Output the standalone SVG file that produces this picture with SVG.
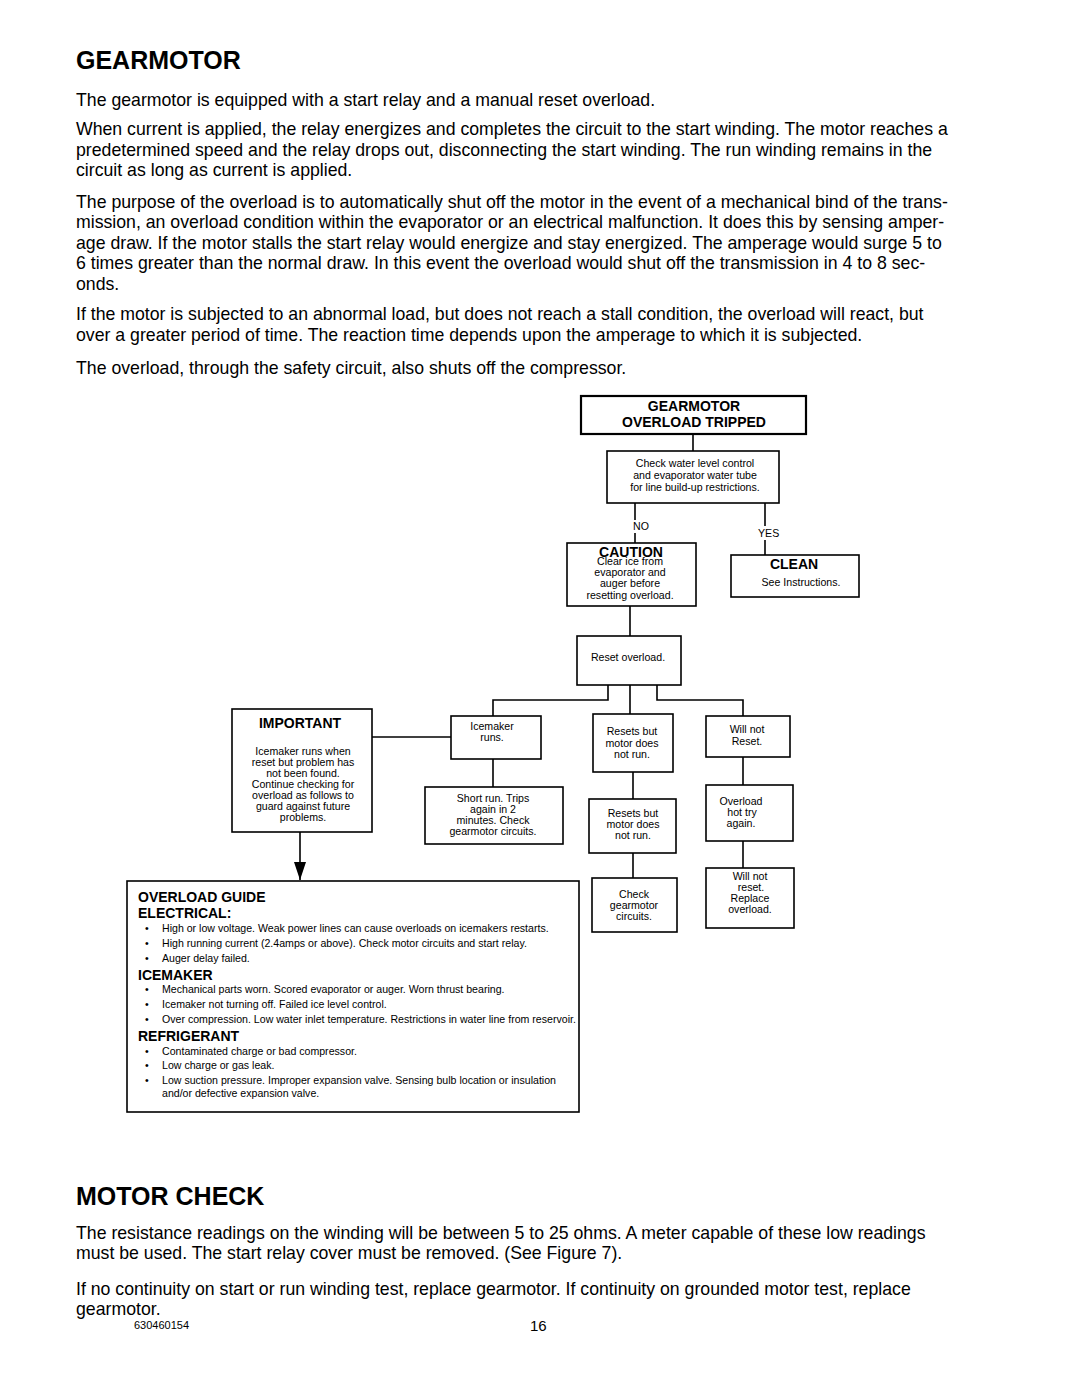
<svg xmlns="http://www.w3.org/2000/svg" width="1080" height="1397" viewBox="0 0 1080 1397">
<style>
text{font-family:"Liberation Sans",Arial,Helvetica,sans-serif;fill:#000}
.h1{font-size:25px;font-weight:bold}
.p{font-size:17.7px}
.bh{font-size:14px;font-weight:bold}
.s{font-size:10.6px}
.sc{font-size:10.6px;text-anchor:middle}
.bc{font-size:14px;font-weight:bold;text-anchor:middle}
.box{fill:#fff;stroke:#000;stroke-width:1.6}
.thick{fill:#fff;stroke:#000;stroke-width:2.2}
.ln{fill:none;stroke:#000;stroke-width:1.6}
</style>
<defs>
<marker id="arr" markerWidth="18" markerHeight="12" refX="18" refY="6" orient="auto" markerUnits="userSpaceOnUse">
<path d="M0,0 L18,6 L0,12 Z" fill="#000"/>
</marker>
</defs>
<rect width="1080" height="1397" fill="#fff"/>

<g id="text-top">
<text class="h1" x="76" y="69">GEARMOTOR</text>
<text class="p" x="76" y="106">The gearmotor is equipped with a start relay and a manual reset overload.</text>
<text class="p" x="76" y="135">When current is applied, the relay energizes and completes the circuit to the start winding. The motor reaches a</text>
<text class="p" x="76" y="156">predetermined speed and the relay drops out, disconnecting the start winding. The run winding remains in the</text>
<text class="p" x="76" y="176">circuit as long as current is applied.</text>
<text class="p" x="76" y="208">The purpose of the overload is to automatically shut off the motor in the event of a mechanical bind of the trans-</text>
<text class="p" x="76" y="228">mission, an overload condition within the evaporator or an electrical malfunction. It does this by sensing amper-</text>
<text class="p" x="76" y="249">age draw. If the motor stalls the start relay would energize and stay energized. The amperage would surge 5 to</text>
<text class="p" x="76" y="269">6 times greater than the normal draw. In this event the overload would shut off the transmission in 4 to 8 sec-</text>
<text class="p" x="76" y="290">onds.</text>
<text class="p" x="76" y="320">If the motor is subjected to an abnormal load, but does not reach a stall condition, the overload will react, but</text>
<text class="p" x="76" y="341">over a greater period of time. The reaction time depends upon the amperage to which it is subjected.</text>
<text class="p" x="76" y="374">The overload, through the safety circuit, also shuts off the compressor.</text>
</g>

<g id="connectors">
<line class="ln" x1="693" y1="434" x2="693" y2="451"/>
<line class="ln" x1="635" y1="503" x2="635" y2="520"/>
<line class="ln" x1="635" y1="533" x2="635" y2="543"/>
<line class="ln" x1="765" y1="503" x2="765" y2="526"/>
<line class="ln" x1="765" y1="540" x2="765" y2="555"/>
<line class="ln" x1="630" y1="606" x2="630" y2="636"/>
<polyline class="ln" points="608,685 608,700 493,700 493,716"/>
<line class="ln" x1="630" y1="685" x2="630" y2="714"/>
<polyline class="ln" points="657,685 657,700 743,700 743,716"/>
<line class="ln" x1="372" y1="737" x2="451" y2="737"/>
<line class="ln" x1="493" y1="759" x2="493" y2="787"/>
<line class="ln" x1="633" y1="772" x2="633" y2="799"/>
<line class="ln" x1="633" y1="853" x2="633" y2="878"/>
<line class="ln" x1="743" y1="757" x2="743" y2="785"/>
<line class="ln" x1="743" y1="841" x2="743" y2="868"/>
<line class="ln" x1="300" y1="832" x2="300" y2="880" marker-end="url(#arr)"/>
<text class="s" x="633" y="530">NO</text>
<text class="s" x="758" y="537">YES</text>
</g>

<g id="n-tripped">
<rect class="thick" x="581" y="396" width="225" height="38"/>
<text class="bc" x="694" y="411">GEARMOTOR</text>
<text class="bc" x="694" y="427">OVERLOAD TRIPPED</text>
</g>

<g id="n-check-water">
<rect class="box" x="607" y="451" width="172" height="52"/>
<text class="sc" x="695" y="467">Check water level control</text>
<text class="sc" x="695" y="479">and evaporator water tube</text>
<text class="sc" x="695" y="491">for line build-up restrictions.</text>
</g>

<g id="n-caution">
<rect class="box" x="567" y="543" width="129" height="63"/>
<text class="bc" x="631" y="557">CAUTION</text>
<text class="sc" x="630" y="565">Clear ice from</text>
<text class="sc" x="630" y="576">evaporator and</text>
<text class="sc" x="630" y="587">auger before</text>
<text class="sc" x="630" y="599">resetting overload.</text>
</g>

<g id="n-clean">
<rect class="box" x="731" y="555" width="128" height="42"/>
<text class="bc" x="794" y="569">CLEAN</text>
<text class="sc" x="801" y="586">See Instructions.</text>
</g>

<g id="n-reset">
<rect class="box" x="577" y="636" width="104" height="49"/>
<text class="sc" x="628" y="661">Reset overload.</text>
</g>

<g id="n-important">
<rect class="box" x="232" y="709" width="140" height="123"/>
<text class="bc" x="300" y="728">IMPORTANT</text>
<text class="sc" x="303" y="755">Icemaker runs when</text>
<text class="sc" x="303" y="766">reset but problem has</text>
<text class="sc" x="303" y="777">not been found.</text>
<text class="sc" x="303" y="788">Continue checking for</text>
<text class="sc" x="303" y="799">overload as follows to</text>
<text class="sc" x="303" y="810">guard against future</text>
<text class="sc" x="303" y="821">problems.</text>
</g>

<g id="n-icemaker-runs">
<rect class="box" x="451" y="716" width="90" height="43"/>
<text class="sc" x="492" y="730">Icemaker</text>
<text class="sc" x="492" y="741">runs.</text>
</g>

<g id="n-short-run">
<rect class="box" x="425" y="787" width="138" height="57"/>
<text class="sc" x="493" y="802">Short run. Trips</text>
<text class="sc" x="493" y="813">again in 2</text>
<text class="sc" x="493" y="824">minutes. Check</text>
<text class="sc" x="493" y="835">gearmotor circuits.</text>
</g>

<g id="n-resets1">
<rect class="box" x="593" y="714" width="80" height="58"/>
<text class="sc" x="632" y="735">Resets but</text>
<text class="sc" x="632" y="747">motor does</text>
<text class="sc" x="632" y="758">not run.</text>
</g>

<g id="n-resets2">
<rect class="box" x="589" y="799" width="87" height="54"/>
<text class="sc" x="633" y="817">Resets but</text>
<text class="sc" x="633" y="828">motor does</text>
<text class="sc" x="633" y="839">not run.</text>
</g>

<g id="n-check-gearmotor">
<rect class="box" x="592" y="878" width="85" height="54"/>
<text class="sc" x="634" y="898">Check</text>
<text class="sc" x="634" y="909">gearmotor</text>
<text class="sc" x="634" y="920">circuits.</text>
</g>

<g id="n-will-not-reset">
<rect class="box" x="706" y="716" width="84" height="41"/>
<text class="sc" x="747" y="733">Will not</text>
<text class="sc" x="747" y="745">Reset.</text>
</g>

<g id="n-overload-hot">
<rect class="box" x="706" y="785" width="87" height="56"/>
<text class="sc" x="741" y="805">Overload</text>
<text class="sc" x="742" y="816">hot try</text>
<text class="sc" x="741" y="827">again.</text>
</g>

<g id="n-replace">
<rect class="box" x="706" y="868" width="88" height="60"/>
<text class="sc" x="750" y="880">Will not</text>
<text class="sc" x="751" y="891">reset.</text>
<text class="sc" x="750" y="902">Replace</text>
<text class="sc" x="750" y="913">overload.</text>
</g>

<g id="n-guide">
<rect class="box" x="127" y="881" width="452" height="231"/>
<text class="bh" x="138" y="902">OVERLOAD GUIDE</text>
<text class="bh" x="138" y="918">ELECTRICAL:</text>
<text class="s" x="145" y="932">•</text><text class="s" x="162" y="932">High or low voltage. Weak power lines can cause overloads on icemakers restarts.</text>
<text class="s" x="145" y="947">•</text><text class="s" x="162" y="947">High running current (2.4amps or above). Check motor circuits and start relay.</text>
<text class="s" x="145" y="962">•</text><text class="s" x="162" y="962">Auger delay failed.</text>
<text class="bh" x="138" y="980">ICEMAKER</text>
<text class="s" x="145" y="993">•</text><text class="s" x="162" y="993">Mechanical parts worn. Scored evaporator or auger. Worn thrust bearing.</text>
<text class="s" x="145" y="1008">•</text><text class="s" x="162" y="1008">Icemaker not turning off. Failed ice level control.</text>
<text class="s" x="145" y="1023">•</text><text class="s" x="162" y="1023">Over compression. Low water inlet temperature. Restrictions in water line from reservoir.</text>
<text class="bh" x="138" y="1041">REFRIGERANT</text>
<text class="s" x="145" y="1055">•</text><text class="s" x="162" y="1055">Contaminated charge or bad compressor.</text>
<text class="s" x="145" y="1069">•</text><text class="s" x="162" y="1069">Low charge or gas leak.</text>
<text class="s" x="145" y="1084">•</text><text class="s" x="162" y="1084">Low suction pressure. Improper expansion valve.  Sensing bulb location or insulation</text>
<text class="s" x="162" y="1097">and/or defective expansion valve.</text>
</g>

<g id="text-bottom">
<text class="h1" x="76" y="1205">MOTOR CHECK</text>
<text class="p" x="76" y="1239">The resistance readings on the winding will be between 5 to 25 ohms. A meter capable of these low readings</text>
<text class="p" x="76" y="1259">must be used. The start relay cover must be removed. (See Figure 7).</text>
<text class="p" x="76" y="1295">If no continuity on start or run winding test, replace gearmotor. If continuity on grounded motor test, replace</text>
<text class="p" x="76" y="1315">gearmotor.</text>
<text x="134" y="1329" style="font-size:11px">630460154</text>
<text x="530" y="1331" style="font-size:15px">16</text>
</g>
</svg>
